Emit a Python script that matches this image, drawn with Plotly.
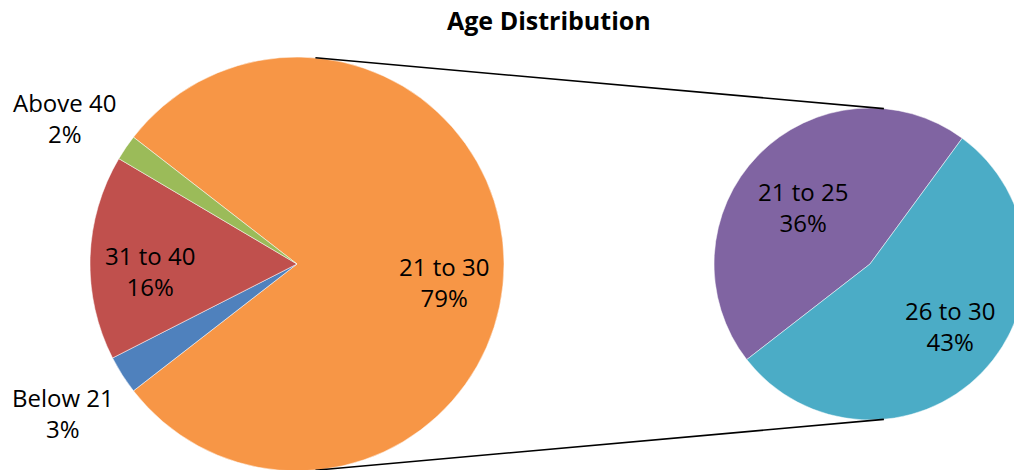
import math
import plotly.graph_objects as go

# Age distribution (percent of respondents), main pie in clockwise order
main_labels = ["21 to 30", "Below 21", "31 to 40", "Above 40"]
main_values = [79, 3, 16, 2]
main_colors = ["#F79646", "#4F81BD", "#C0504D", "#9BBB59"]

# Breakdown of the "21 to 30" group (percent of all respondents)
sub_labels = ["21 to 25", "26 to 30"]
sub_values = [36, 43]
sub_colors = ["#8064A2", "#4BACC6"]

TITLE = "Age Distribution"
FONT = "Open Sans"

# Canvas (slightly wider/taller than the viewport so the pies can run off the edge)
W, H = 1030, 472

# Pie geometry in pixels: centre and radius
C1, R1 = (297.0, 264.0), 207.0
C2, R2 = (870.0, 264.0), 156.0


def px(x):
    return x / W


def py(y):
    return 1 - y / H


def domain(c, r):
    return dict(x=[px(c[0] - r), px(c[0] + r)], y=[py(c[1] + r), py(c[1] - r)])


fig = go.Figure()

fig.add_trace(go.Pie(
    labels=main_labels, values=main_values, sort=False, direction="clockwise",
    rotation=-52.2, textinfo="none", hoverinfo="label+percent",
    marker=dict(colors=main_colors, line=dict(color="white", width=0.5)),
    domain=domain(C1, R1), showlegend=False,
))

fig.add_trace(go.Pie(
    labels=sub_labels, values=sub_values, sort=False, direction="clockwise",
    rotation=-127.8, textinfo="none", hoverinfo="label+value",
    marker=dict(colors=sub_colors, line=dict(color="white", width=0.5)),
    domain=domain(C2, R2), showlegend=False,
))

# External tangent lines joining the two pies
d = C2[0] - C1[0]
phi = math.asin((R1 - R2) / d)
for s in (1, -1):
    nx, ny = math.sin(phi), -s * math.cos(phi)
    x0, y0 = C1[0] + R1 * nx, C1[1] + R1 * ny
    x1, y1 = C2[0] + R2 * nx, C2[1] + R2 * ny
    fig.add_shape(type="line", xref="paper", yref="paper",
                  x0=px(x0), y0=py(y0), x1=px(x1), y1=py(y1),
                  line=dict(color="black", width=1.6), layer="above")

# Slice labels: name on one line, share on the next (centre of the two-line block)
total = sum(main_values)
label_pos = {
    "21 to 30": (444, 282),
    "Below 21": (63, 413),
    "31 to 40": (150, 271),
    "Above 40": (64, 118),
    "21 to 25": (803, 207),
    "26 to 30": (950, 326),
}
pairs = list(zip(main_labels, main_values)) + list(zip(sub_labels, sub_values))
for name, val in pairs:
    x, y = label_pos[name]
    pct = f"{round(100 * val / total)}%"
    fig.add_annotation(x=px(x), y=py(y), xref="paper", yref="paper",
                       text=f"{name}<br>{pct}", showarrow=False,
                       xanchor="center", yanchor="middle", align="center",
                       font=dict(family=FONT, size=24, color="black"))

fig.add_annotation(x=px(549), y=py(20), xref="paper", yref="paper",
                   text=f"<b>{TITLE}</b>", showarrow=False,
                   xanchor="center", yanchor="middle",
                   font=dict(family=FONT, size=25, color="black"))

fig.update_layout(
    width=W, height=H,
    margin=dict(l=0, r=0, t=0, b=0),
    paper_bgcolor="white", plot_bgcolor="white",
)

fig.write_html(
    "out.html",
    post_script="document.documentElement.style.overflow='hidden';"
                "document.body.style.overflow='hidden';",
)
